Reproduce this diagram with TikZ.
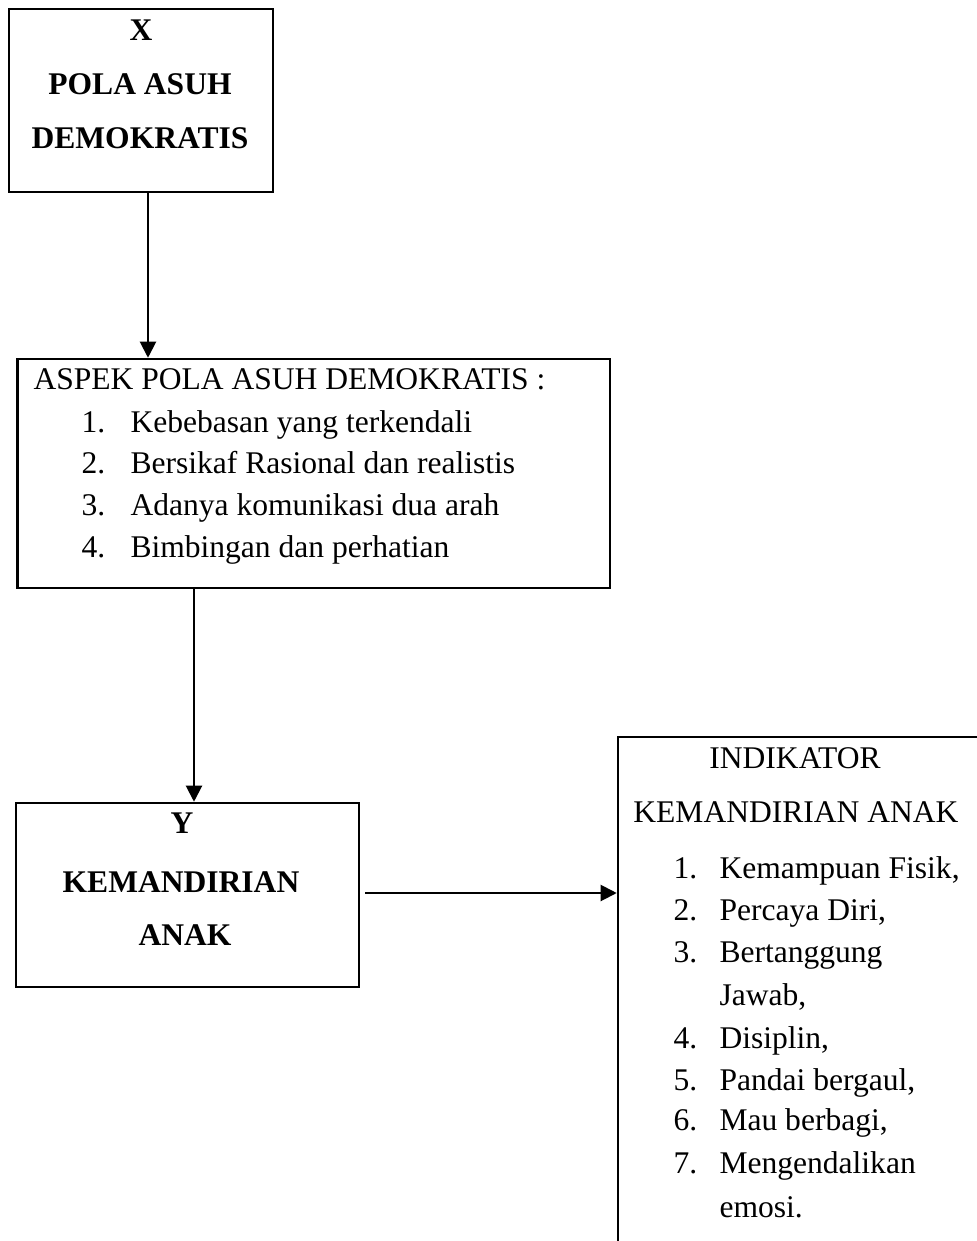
\documentclass[tikz,border=0pt]{standalone}
\usepackage{fontspec}
\setmainfont{Liberation Serif}
\usetikzlibrary{arrows.meta}

\def\u{0.393pt}   % one pixel of the layout
\newcommand\bodysize{\fontsize{12.4}{15}\selectfont}

\tikzset{
  box/.style={draw, line width=1pt, inner sep=0pt},
  arr/.style={line width=0.8pt, -{Triangle[length=6.3pt,width=6.3pt]}},
  head/.style={inner sep=0pt, anchor=base, font=\bodysize\bfseries},
  ttl/.style={inner sep=0pt, anchor=base, font=\bodysize},
  ln/.style={inner sep=0pt, anchor=base west, font=\bodysize},
}

\begin{document}
\begin{tikzpicture}[x=\u, y=-\u]

\path[use as bounding box] (0,0) rectangle (977,1241);
\clip (0,0) rectangle (977,1241);

% boxes
\node[box, minimum width={264*\u}, minimum height={183*\u}] (varx) at (141,100.5) {};
\node[box, minimum width={592.5*\u}, minimum height={229*\u}] (aspek) at (313.75,473.5) {};
\node[box, minimum width={343*\u}, minimum height={184*\u}] (vary) at (187.5,895) {};
\node[box, minimum width={377*\u}, minimum height={528*\u}] (indik) at (806.5,1001) {};

% variable X
\node[head] (x1) at (141,40) {X};
\node[head] (x2) at (140,94) {POLA ASUH};
\node[head] (x3) at (140,148) {DEMOKRATIS};

% aspects
\node[ln] (asptitle) at (33,389) {ASPEK POLA ASUH DEMOKRATIS :};
\foreach \n/\t/\y in {1/Kebebasan yang terkendali/432,
                      2/Bersikaf Rasional dan realistis/473,
                      3/Adanya komunikasi dua arah/515,
                      4/Bimbingan dan perhatian/557}{
  \node[ln] (aspn\n) at (81,\y) {\n.};
  \node[ln] (aspt\n) at (130,\y) {\t};
}

% variable Y
\node[head] (y1) at (182,833) {Y};
\node[head] (y2) at (181,892) {KEMANDIRIAN};
\node[head] (y3) at (185,945) {ANAK};

% indicators
\node[ttl] (indtitle1) at (795,768) {INDIKATOR};
\node[ttl] (indtitle2) at (796,822) {KEMANDIRIAN ANAK};
\foreach \n/\t/\y in {1/{Kemampuan Fisik,}/878,
                      2/{Percaya Diri,}/920,
                      3/{Bertanggung}/962,
                      4/{Disiplin,}/1048,
                      5/{Pandai bergaul,}/1090,
                      6/{Mau berbagi,}/1130,
                      7/{Mengendalikan}/1173}{
  \node[ln] (indn\n) at (673,\y) {\n.};
  \node[ln] (indt\n) at (719,\y) {\t};
}
\node[ln] (indt3b) at (719,1005) {Jawab,};
\node[ln] (indt7b) at (719,1217) {emosi.};

% connectors
\coordinate (a1) at (148,0);
\coordinate (a2) at (194,0);
\coordinate (a3) at (365,893);
\draw[arr] (varx.south -| a1) -- (aspek.north -| a1);
\draw[arr] (aspek.south -| a2) -- (vary.north -| a2);
\draw[arr] (a3) -- (a3 -| indik.west);

\end{tikzpicture}
\end{document}
